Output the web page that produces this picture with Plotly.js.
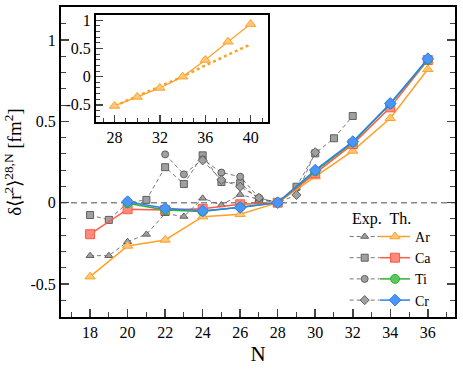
<!DOCTYPE html>
<html>
<head>
<meta charset="utf-8">
<script src="https://cdn.plot.ly/plotly-3.0.1.min.js"></script>
<style>
body { margin: 0; padding: 0; background: #fff; }
#chart { width: 463px; height: 371px; }
</style>
</head>
<body>
<div id="chart"></div>
<script>
// theory, even N
let N_th = [18, 20, 22, 24, 26, 28, 30, 32, 34, 36];
let Ar_th = [-0.455, -0.266, -0.229, -0.086, -0.071, 0, 0.16, 0.318, 0.519, 0.82];
let N_th2 = [20, 22, 24, 26, 28, 30, 32, 34, 36];
let Ca_th = [-0.194, -0.04, -0.045, -0.038, -0.01, 0, 0.18, 0.36, 0.586, 0.877];
let Ti_th = [-0.004, -0.045, -0.055, -0.027, 0, 0.193, 0.371, 0.607, 0.879];
let Cr_th = [0.006, -0.035, -0.05, -0.03, 0, 0.2, 0.375, 0.61, 0.885];

// experiment
let N_Ar_exp = [18, 19, 20, 21, 22, 23, 24, 25, 26, 27, 28];
let Ar_exp = [-0.326, -0.326, -0.24, -0.195, -0.068, -0.085, 0.027, -0.014, 0.05, 0.02, 0];
let N_Ca_exp = [18, 19, 20, 21, 22, 23, 24, 25, 26, 27, 28, 29, 30, 31, 32];
let Ca_exp = [-0.076, -0.106, 0, 0.017, 0.218, 0.115, 0.291, 0.127, 0.12, 0.02, 0, 0.098, 0.303, 0.396, 0.533];
let N_Ti_exp = [22, 23, 24, 25, 26, 27, 28];
let Ti_exp = [0.297, 0.174, 0.267, 0.185, 0.16, 0.03, 0];
let N_Cr_exp = [24, 25, 26, 27, 28, 29, 30];
let Cr_exp = [0.26, 0.14, 0.098, 0.03, 0, 0.047, 0.31];

// inset
let N_ins = [28, 30, 32, 34, 36, 38, 40];
let Ar_ins = [-0.52, -0.36, -0.2, 0.0, 0.296, 0.62, 0.934];
let Ar_ins_dot = [-0.52, -0.35, -0.18, 0.0, 0.2, 0.39, 0.575];

let labels = ['Ar', 'Ca', 'Ti', 'Cr'];
let y_ticks = [-0.5, 0, 0.5, 1];
let y_ticktext = ['-0.5', '0', '0.5', '1'];
let x_ticks = [18, 20, 22, 24, 26, 28, 30, 32, 34, 36];
let ins_x_ticks = [28, 32, 36, 40];
let ins_y_ticks = [-0.5, 0, 0.5, 1];
let ins_y_ticktext = ['-0.5', '0', '0.5', '1'];

let th_colors = ['#ffa126', '#ff5a47', '#2fb02f', '#2e7ff0'];
let th_fill = ['#ffc77a', '#ff8a7c', '#5cc85c', '#4a95f5'];
let th_symbols = ['triangle-up', 'square', 'circle', 'diamond'];

let exp_x = [N_Ar_exp, N_Ca_exp, N_Ti_exp, N_Cr_exp];
let exp_y = [Ar_exp, Ca_exp, Ti_exp, Cr_exp];
let th_x = [N_th, N_th, N_th2, N_th2];
let th_y = [Ar_th, Ca_th, Ti_th, Cr_th];

let traces = [];
for (let i = 0; i < 4; i++) {
    traces.push({
        x: exp_x[i], y: exp_y[i],
        mode: 'lines+markers',
        name: ' ',
        legend: 'legend2',
        line: {color: '#555', width: 0.8, dash: '4px,3px'},
        marker: {symbol: th_symbols[i], size: 7, color: '#a0a0a0', line: {color: '#606060', width: 1}}
    });
}
for (let i = 0; i < 4; i++) {
    traces.push({
        x: th_x[i], y: th_y[i],
        mode: 'lines+markers',
        name: labels[i],
        legend: 'legend',
        line: {color: th_colors[i], width: 1.5},
        marker: {symbol: th_symbols[i], size: 9, color: th_fill[i], line: {color: th_colors[i], width: 1}}
    });
}
traces.push({
    x: N_ins, y: Ar_ins_dot,
    xaxis: 'x2', yaxis: 'y2',
    mode: 'lines', showlegend: false,
    line: {color: '#ffa126', width: 2.5, dash: 'dot'}
});
traces.push({
    x: N_ins, y: Ar_ins,
    xaxis: 'x2', yaxis: 'y2',
    mode: 'lines+markers', showlegend: false,
    line: {color: '#ffa126', width: 1.2},
    marker: {symbol: 'triangle-up', size: 9, color: '#ffc77a', line: {color: '#ffa126', width: 1}}
});

let serif = 'Liberation Serif';
let font = {family: serif, size: 16, color: '#000'};
let legfont = {family: serif, size: 14, color: '#000'};

let layout = {
    width: 463,
    height: 371,
    margin: {l: 61, r: 8, t: 7, b: 54},
    paper_bgcolor: '#fff',
    plot_bgcolor: '#fff',
    font: font,
    xaxis: {
        range: [16.45, 37.45],
        tickvals: x_ticks,
        ticks: 'inside', ticklen: 8, tickwidth: 1.5,
        minor: {dtick: 1, tick0: 0, ticks: 'inside', ticklen: 5, tickwidth: 1},
        showline: true, linewidth: 2, linecolor: '#000', mirror: true,
        showgrid: false, zeroline: false,
        title: {text: 'N', font: {family: serif, size: 21}, standoff: 6}
    },
    yaxis: {
        range: [-0.703, 1.203],
        tickvals: y_ticks, ticktext: y_ticktext,
        ticks: 'inside', ticklen: 8, tickwidth: 1.5,
        minor: {dtick: 0.1, tick0: 0, ticks: 'inside', ticklen: 5, tickwidth: 1},
        showline: true, linewidth: 2, linecolor: '#000', mirror: 'ticks',
        showgrid: false, zeroline: false,
        title: {text: 'δ⟨r<sup>2</sup>⟩<sup>28,N</sup> [fm<sup>2</sup>]', font: {family: serif, size: 19}, standoff: 4}
    },
    xaxis2: {
        domain: [0.0888, 0.5246], anchor: 'y2',
        range: [26.37, 41.5],
        tickvals: ins_x_ticks,
        ticks: 'inside', ticklen: 7, tickwidth: 1.5,
        minor: {dtick: 1, tick0: 0, ticks: 'inside', ticklen: 4, tickwidth: 1},
        showline: true, linewidth: 2, linecolor: '#000', mirror: true,
        showgrid: false, zeroline: false
    },
    yaxis2: {
        domain: [0.63, 0.974], anchor: 'x2',
        range: [-0.8, 1.094],
        tickvals: ins_y_ticks, ticktext: ins_y_ticktext,
        ticks: 'inside', ticklen: 7, tickwidth: 1.5,
        minor: {dtick: 0.1, tick0: 0, ticks: 'inside', ticklen: 4, tickwidth: 1},
        showline: true, linewidth: 2, linecolor: '#000', mirror: true,
        showgrid: false, zeroline: false
    },
    shapes: [{
        type: 'line', xref: 'paper', yref: 'y',
        x0: 0, x1: 1, y0: 0, y1: 0,
        layer: 'below',
        line: {color: '#888', width: 1.5, dash: '6px,4px'}
    }],
    annotations: [{
        text: 'Exp.  Th.', xref: 'paper', yref: 'paper',
        x: 0.7335, y: 0.316, xanchor: 'left', yanchor: 'middle',
        showarrow: false, font: font
    }],
    legend: {
        x: 0.797, y: 0.31, xanchor: 'left', yanchor: 'top',
        bgcolor: 'rgba(0,0,0,0)',
        font: legfont,
        tracegroupgap: 0
    },
    legend2: {
        x: 0.72, y: 0.31, xanchor: 'left', yanchor: 'top',
        bgcolor: 'rgba(0,0,0,0)',
        font: legfont,
        tracegroupgap: 0
    }
};

Plotly.newPlot('chart', traces, layout, {displayModeBar: false, staticPlot: true});
</script>
</body>
</html>
